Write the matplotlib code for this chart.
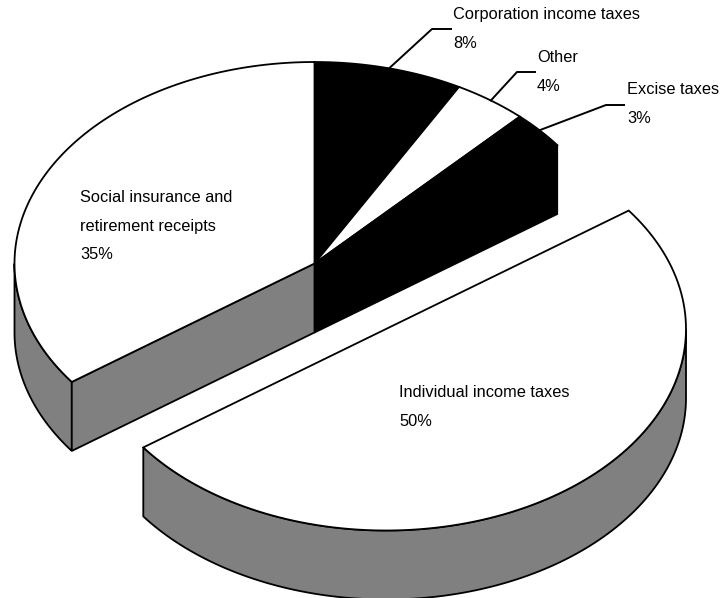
import numpy as np
import matplotlib
matplotlib.use("Agg")
import matplotlib.pyplot as plt
from matplotlib.patches import Polygon

categories = ["Corporation income taxes", "Other", "Excise taxes",
              "Individual income taxes", "Social insurance and\nretirement receipts"]
values = [8, 4, 3, 50, 35]
face_colors = ["black", "white", "black", "white", "white"]
side_colors = ["black", "white", "black", "#808080", "#808080"]

plt.rcParams["font.family"] = ["Liberation Sans", "DejaVu Sans"]
fig = plt.figure(figsize=(7.21, 5.98), dpi=100)
ax = fig.add_axes([0, 0, 1, 1])
ax.set_xlim(0, 721)
ax.set_ylim(598, 0)
ax.axis("off")

CX, CY, RX, RY, DEPTH = 314.5, 263.5, 300, 201.5, 69
OFFSET = {3: (71.5, 65.5)}

def pt(theta, c):
    return np.array([c[0] + RX * np.sin(theta), c[1] - RY * np.cos(theta)])

def arc(t0, t1, c, n=120):
    ts = np.linspace(t0, t1, n)
    return np.column_stack([c[0] + RX * np.sin(ts), c[1] - RY * np.cos(ts)])

cum = np.cumsum([0] + values) / sum(values) * 2 * np.pi
down = np.array([0, DEPTH])
lw = 1.3

order = [0, 1, 2, 4, 3]
for i in order:
    t0, t1 = cum[i], cum[i + 1]
    off = OFFSET.get(i, (0, 0))
    c = (CX + off[0], CY + off[1])
    ca = np.array(c)
    a0, a1 = max(t0, np.pi / 2), min(t1, 3 * np.pi / 2)
    if a0 < a1:
        rim = arc(a0, a1, c)
        ax.add_patch(Polygon(np.vstack([rim, (rim + down)[::-1]]), closed=True,
                             fc=side_colors[i], ec="black", lw=lw, zorder=2))
    if i == 4:
        e = pt(t0, c)
        ax.add_patch(Polygon([e, ca, ca + down, e + down], closed=True,
                             fc=side_colors[i], ec="black", lw=lw, zorder=2))
    if i == 2:
        e = pt(t1, c)
        ax.add_patch(Polygon([e, ca, ca + down, e + down], closed=True,
                             fc=side_colors[i], ec="black", lw=lw, zorder=2))
    ax.add_patch(Polygon(np.vstack([ca, arc(t0, t1, c)]), closed=True,
                         fc=face_colors[i], ec="black", lw=lw, zorder=3))

fs = 11.8
def label(x, y, i):
    ax.text(x, y, f"{categories[i]}\n{values[i]}%", fontsize=fs, ha="left", va="center",
            linespacing=2.1, zorder=5, color="black")

label(453, 29, 0)
label(537, 72, 1)
label(627, 104, 2)
label(399, 407, 3)
label(80, 226, 4)

for i, elbow, end in [(0, (432, 29), 451), (1, (517, 72), 535), (2, (606, 105), 624)]:
    mid = (cum[i] + cum[i + 1]) / 2
    p = pt(mid, (CX, CY))
    ax.plot([p[0], elbow[0], end], [p[1], elbow[1], elbow[1]], color="black", lw=1.4, zorder=4)

fig.savefig("out.png", dpi=100)
